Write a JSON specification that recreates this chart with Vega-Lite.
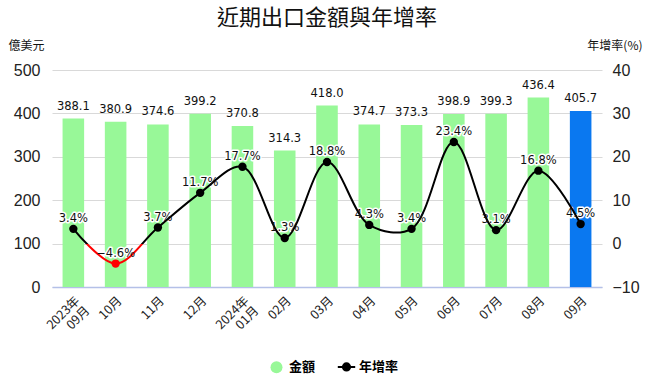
{
  "$schema": "https://vega.github.io/schema/vega-lite/v6.json",
  "width": 550,
  "height": 217,
  "autosize": {"type": "none"},
  "padding": {"left": 52, "top": 70, "right": 48, "bottom": 101},
  "background": "white",
  "title": {
    "text": "近期出口金額與年增率",
    "font": "Noto Sans CJK TC",
    "fontSize": 22,
    "fontWeight": "normal",
    "color": "#111",
    "anchor": "middle",
    "offset": 9
  },
  "config": {
    "view": {"stroke": null},
    "font": "Noto Sans CJK TC"
  },
  "data": {
    "values": [
      {"m": "2023年|09月", "amt": 388.1, "yoy": 3.4},
      {"m": "10月", "amt": 380.9, "yoy": -4.6},
      {"m": "11月", "amt": 374.6, "yoy": 3.7},
      {"m": "12月", "amt": 399.2, "yoy": 11.7},
      {"m": "2024年|01月", "amt": 370.8, "yoy": 17.7},
      {"m": "02月", "amt": 314.3, "yoy": 1.3},
      {"m": "03月", "amt": 418.0, "yoy": 18.8},
      {"m": "04月", "amt": 374.7, "yoy": 4.3},
      {"m": "05月", "amt": 373.3, "yoy": 3.4},
      {"m": "06月", "amt": 398.9, "yoy": 23.4},
      {"m": "07月", "amt": 399.3, "yoy": 3.1},
      {"m": "08月", "amt": 436.4, "yoy": 16.8},
      {"m": "09月", "amt": 405.7, "yoy": 4.5}
    ]
  },
  "encoding": {
    "x": {
      "field": "m",
      "type": "nominal",
      "sort": null,
      "scale": {"paddingInner": 0.49, "paddingOuter": 0.25},
      "axis": {
        "title": null,
        "labelAngle": -45,
        "labelAlign": "right",
        "labelBaseline": "top",
        "labelExpr": "split(datum.value, '|')",
        "labelFont": "Noto Sans CJK TC",
        "labelFontSize": 12.5,
        "labelColor": "#222",
        "labelPadding": 7,
        "labelLineHeight": 14,
        "ticks": false,
        "domainColor": "#b4c0e8",
        "domainWidth": 1.5,
        "grid": false
      }
    }
  },
  "layer": [
    {
      "encoding": {
        "y": {
          "field": "amt",
          "type": "quantitative",
          "scale": {"domain": [0, 500], "nice": false, "zero": true},
          "axis": {
            "values": [0, 100, 200, 300, 400, 500],
            "title": "億美元",
            "titleAngle": 0,
            "titleX": -44,
            "titleY": -18,
            "titleAlign": "left",
            "titleBaseline": "bottom",
            "titleFont": "Noto Sans CJK TC",
            "titleFontSize": 12,
            "titleFontWeight": "normal",
            "titleColor": "#111",
            "labelFont": "Liberation Sans",
            "labelFontSize": 16,
            "labelColor": "#222",
            "labelPadding": 12,
            "ticks": false,
            "domain": false,
            "grid": true,
            "gridColor": "#d9d9d9",
            "gridWidth": 1
          }
        }
      },
      "layer": [
        {
          "mark": {"type": "bar"},
          "encoding": {
            "color": {
              "condition": {"test": "datum.m === '09月'", "value": "#0a78f0"},
              "datum": "金額",
              "scale": {"domain": ["金額", "年增率"], "range": ["#98f898", "#000000"]},
              "legend": {
                "title": null,
                "orient": "none",
                "direction": "horizontal",
                "legendX": 218,
                "legendY": 290,
                "symbolSize": 144,
                "columnPadding": 17,
                "labelFont": "Noto Sans CJK TC",
                "labelFontSize": 13,
                "labelFontWeight": "bold",
                "labelColor": "#000",
                "labelOffset": 6,
                "encode": {
                  "symbols": {
                    "update": {
                      "shape": {"signal": "datum.value === '金額' ? 'circle' : 'M-1.45,0L1.45,0M-0.6,0A0.6,0.6 0 1,1 0.6,0A0.6,0.6 0 1,1 -0.6,0Z'"},
                      "fill": {"signal": "datum.value === '金額' ? '#98f898' : '#000000'"},
                      "stroke": {"signal": "datum.value === '金額' ? '#98f898' : '#000000'"},
                      "strokeWidth": {"signal": "datum.value === '金額' ? 0 : 2"},
                      "opacity": {"value": 1}
                    }
                  }
                }
              }
            }
          }
        },
        {
          "mark": {"type": "text", "baseline": "bottom", "dy": -7, "font": "DejaVu Sans", "fontSize": 11.5, "color": "#111"},
          "encoding": {
            "text": {"field": "amt", "type": "quantitative", "format": ".1f"}
          }
        }
      ]
    },
    {
      "encoding": {
        "y": {
          "field": "yoy",
          "type": "quantitative",
          "scale": {"domain": [-10, 40], "nice": false, "zero": false},
          "axis": {
            "orient": "right",
            "values": [-10, 0, 10, 20, 30, 40],
            "title": "年增率(%)",
            "titleAngle": 0,
            "titleX": 40,
            "titleY": -18,
            "titleAlign": "right",
            "titleBaseline": "bottom",
            "titleFont": "Noto Sans CJK TC",
            "titleFontSize": 12,
            "titleFontWeight": "normal",
            "titleColor": "#111",
            "labelFont": "Liberation Sans",
            "labelFontSize": 16,
            "labelColor": "#222",
            "labelPadding": 10,
            "ticks": false,
            "domain": false,
            "grid": false
          }
        }
      },
      "layer": [
        {
          "transform": [{"calculate": "format(datum.yoy, '.1f') + '%'", "as": "lbl"}],
          "mark": {"type": "text", "baseline": "bottom", "dy": -5, "font": "DejaVu Sans", "fontSize": 11.5, "stroke": "white", "strokeWidth": 3, "strokeJoin": "round", "color": "white"},
          "encoding": {"text": {"field": "lbl"}}
        },
        {
          "mark": {
            "type": "line",
            "interpolate": "catmull-rom",
            "strokeWidth": 2,
            "stroke": {
              "gradient": "linear",
              "x1": 0, "y1": 0, "x2": 0, "y2": 1,
              "stops": [
                {"offset": 0, "color": "#000000"},
                {"offset": 0.8357, "color": "#000000"},
                {"offset": 0.8357, "color": "#ff0000"},
                {"offset": 1, "color": "#ff0000"}
              ]
            }
          }
        },
        {
          "mark": {"type": "point", "filled": true, "size": 70, "opacity": 1},
          "encoding": {
            "color": {
              "condition": {"test": "datum.yoy < 0", "value": "#ff0000"},
              "value": "#000000"
            }
          }
        },
        {
          "transform": [{"calculate": "format(datum.yoy, '.1f') + '%'", "as": "lbl"}],
          "mark": {"type": "text", "baseline": "bottom", "dy": -5, "font": "DejaVu Sans", "fontSize": 11.5, "color": "#111"},
          "encoding": {"text": {"field": "lbl"}}
        }
      ]
    }
  ],
  "resolve": {"scale": {"y": "independent"}}
}
